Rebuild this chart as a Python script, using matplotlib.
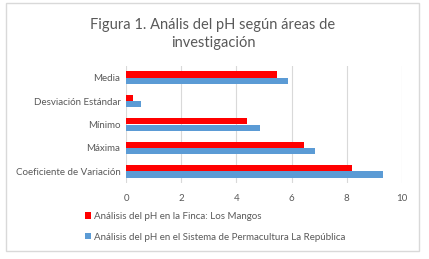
import numpy as np
import matplotlib
matplotlib.use('Agg')
import matplotlib.pyplot as plt
from matplotlib.patches import Rectangle

plt.rcParams['font.family'] = ['Lato', 'DejaVu Sans']

categorias = ['Media', 'Desviación Estándar', 'Mínimo', 'Máxima', 'Coeficiente de Variación']
mangos = [5.46, 0.27, 4.37, 6.46, 8.18]
republica = [5.86, 0.53, 4.87, 6.86, 9.30]
serie1 = 'Análisis del pH en la Finca: Los Mangos'
serie2 = 'Análisis del pH en el Sistema de Permacultura La República'
titulo = 'Figura 1. Anális del pH según áreas de\ninvestigación'

rojo = '#FF0000'
azul = '#5B9BD5'
gris = '#595959'

fig = plt.figure(figsize=(4.29, 2.59), dpi=100)
fig.patches.append(Rectangle((6/429, 1-251/259), 413/429, 248/259, transform=fig.transFigure,
                             fill=False, edgecolor='#D9D9D9', lw=1))
ax = fig.add_axes([126/429, 1-183/259, 276/429, 117/259])

y = np.arange(len(categorias))
h = 0.27
ax.barh(y - h/2, mangos, height=h, color=rojo, label=serie1, zorder=3)
ax.barh(y + h/2, republica, height=h, color=azul, label=serie2, zorder=3)

ax.set_xlim(0, 10)
ax.set_ylim(len(categorias) - 0.5, -0.5)
ax.set_xticks(range(0, 11, 2))
ax.set_yticks(y)
ax.set_yticklabels(categorias)
ax.grid(axis='x', color='#D9D9D9', lw=0.8, zorder=0)
for s in ax.spines.values():
    s.set_visible(False)
ax.tick_params(length=0, labelsize=7, colors=gris)
ax.tick_params(axis='x', pad=8)
ax.tick_params(axis='y', pad=4)

fig.text(213/429, 1-34/259, titulo, ha='center', va='center', fontsize=10.5,
         color=gris, linespacing=1.3)

leg = fig.legend(loc='upper left', bbox_to_anchor=(85/429, 1-212/259), frameon=False,
                 fontsize=7, handlelength=0.6, handleheight=0.6, handletextpad=0.3,
                 labelspacing=1.2, labelcolor=gris, borderaxespad=0, borderpad=0)

fig.savefig('out.png', dpi=100)
